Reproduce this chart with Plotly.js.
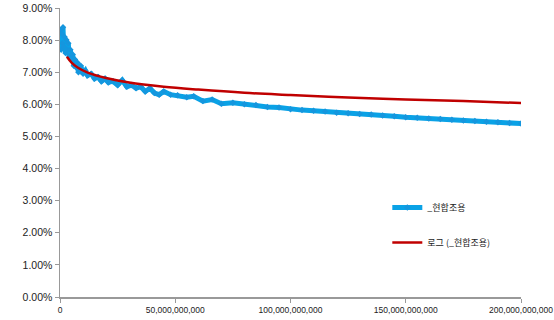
<!DOCTYPE html>
<html><head><meta charset="utf-8">
<script src="https://cdn.plot.ly/plotly-3.0.1.min.js"></script>
<style>html,body{margin:0;padding:0;background:#fff}#c{width:554px;height:320px}</style>
</head><body><div id="c"></div>
<script>
// Blue series (x in billions, value in %)
const blueX = [0.2,0.5,0.8,1.0,1.3,1.6,2.0,2.4,2.8,3.2,3.6,4.0,4.5,5.0,5.5,6.0,6.5,7.0,7.5,8.0,9.0,10,11,12,13.5,15,16.5,18,19.5,21,23,25,27,29,31,33,35,37,39,41,43,45,48,51,55,58,62,66,70,75,80,85,90,95,100,105,110,115,120,125,130,135,140,145,150,155,160,165,170,175,180,185,190,195,200];
const blueY = [8.3,7.7,8.2,7.9,8.4,7.8,8.1,7.6,8.0,7.7,7.9,7.5,7.7,7.4,7.55,7.2,7.4,7.15,7.3,7.0,7.2,6.95,7.05,6.9,6.95,6.8,6.85,6.72,6.8,6.68,6.72,6.6,6.75,6.55,6.6,6.5,6.55,6.4,6.5,6.35,6.3,6.4,6.3,6.28,6.22,6.25,6.1,6.15,6.02,6.05,6.0,5.98,5.92,5.9,5.85,5.82,5.8,5.78,5.74,5.72,5.7,5.68,5.65,5.63,5.6,5.58,5.56,5.54,5.52,5.5,5.48,5.46,5.44,5.42,5.4];
// Red trend series
const redX = [3,5,8,12,20,30,45,60,80,100,125,150,175,200];
const redY = [7.48,7.30,7.13,6.99,6.82,6.68,6.55,6.46,6.36,6.29,6.21,6.15,6.10,6.04];
const seriesNames = ["_현합조용", "로그 (_현합조용)"];
const xTickVals = [0,50,100,150,200];
const xTickText = ["0","50,000,000,000","100,000,000,000","150,000,000,000","200,000,000,000"];
const yTickVals = [0,1,2,3,4,5,6,7,8,9];
const yTickText = ["0.00%","1.00%","2.00%","3.00%","4.00%","5.00%","6.00%","7.00%","8.00%","9.00%"];

const traces = [
  {x: blueX, y: blueY, name: seriesNames[0], type: 'scatter', mode: 'lines+markers',
   legendgroup: 'a',
   line: {color: '#0aa2e6', width: 5},
   marker: {symbol: 'diamond', size: 5, color: '#1596de'}},
  {x: redX, y: redY, name: seriesNames[1], type: 'scatter', mode: 'lines',
   legendgroup: 'b',
   line: {color: '#c00000', width: 2.5, shape: 'spline'}}
];
const xFont = {family: 'Liberation Sans, Arial, sans-serif', size: 8.5, color: '#222'};
const yFont = {family: 'Liberation Sans, Arial, sans-serif', size: 10.5, color: '#222'};
const layout = {
  width: 554, height: 320,
  margin: {l: 60, r: 33, t: 8, b: 23},
  paper_bgcolor: '#fff', plot_bgcolor: '#fff',
  showlegend: true,
  legend: {x: 0.71, y: 0.36, xanchor: 'left', yanchor: 'top',
    font: {family: 'Noto Sans CJK KR, sans-serif', size: 9, color: '#222'},
    tracegroupgap: 16, traceorder: 'grouped', bgcolor: 'rgba(0,0,0,0)'},
  xaxis: {range: [0, 200], tickvals: xTickVals, ticktext: xTickText,
    showgrid: false, zeroline: false, showline: true, linecolor: '#999', linewidth: 1.5,
    ticks: 'outside', ticklen: 4, tickcolor: '#999', tickfont: xFont},
  yaxis: {range: [0, 9], tickvals: yTickVals, ticktext: yTickText,
    showgrid: false, zeroline: false, showline: true, linecolor: '#999', linewidth: 1.5,
    ticks: 'outside', ticklen: 4, tickcolor: '#999', tickfont: yFont}
};
Plotly.newPlot('c', traces, layout, {staticPlot: true, displayModeBar: false});
</script></body></html>
